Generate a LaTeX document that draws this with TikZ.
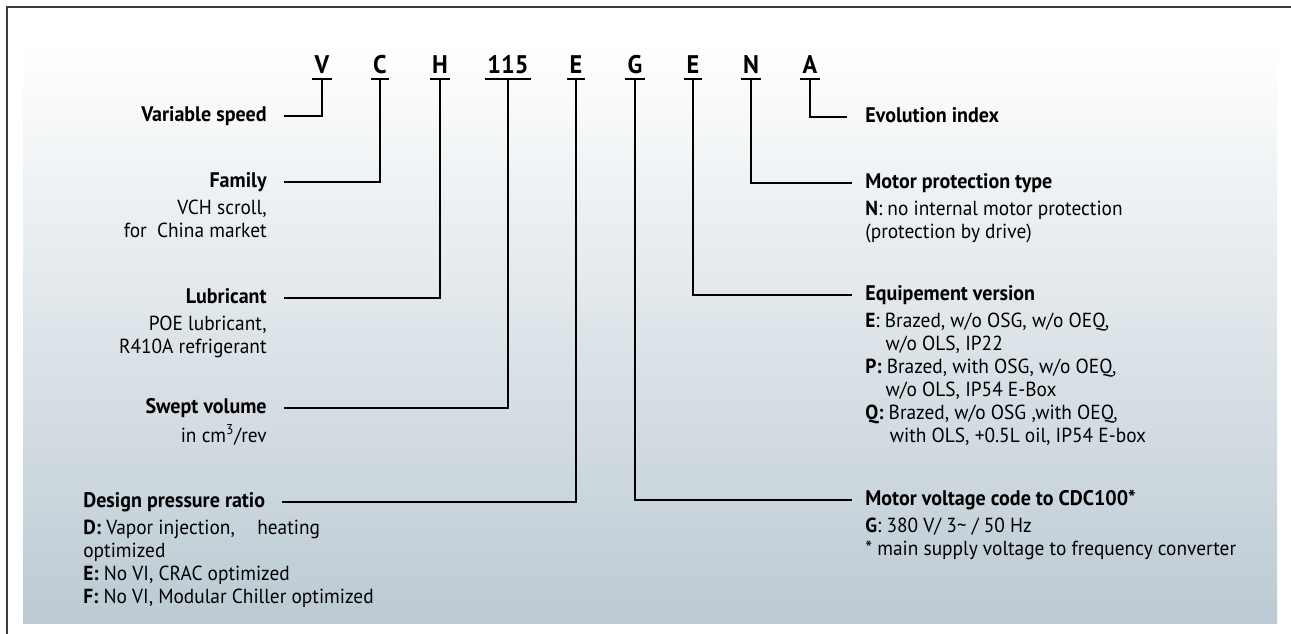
\documentclass[tikz,border=0pt]{standalone}
\usepackage{fontspec}
\setmainfont{PT Sans}[FakeStretch=0.95]
\usetikzlibrary{positioning}
\definecolor{bgbot}{HTML}{BCCAD3}
\definecolor{bgmid}{HTML}{E6EAEE}
\definecolor{framegray}{HTML}{3A3A3A}
\tikzset{
  code/.style={font=\bfseries\fontsize{14.5}{14.5}\selectfont, inner xsep=1.2pt, inner ysep=3pt,
    text height=10.2pt, text depth=0pt, anchor=south},
  title/.style={font=\bfseries\fontsize{12}{13}\selectfont, inner sep=0pt,
    text height=8.5pt, text depth=2.6pt},
  desc/.style={font=\fontsize{11.6}{13.1}\selectfont, inner sep=0pt},
  wire/.style={line width=1.1pt},
  wireL/.style={wire, shorten >=0.34cm},
  wireR/.style={wire, shorten >=0.26cm}
}
\begin{document}
\begin{tikzpicture}[x=0.02cm, y=-0.02cm]
    \useasboundingbox (0,0) rectangle (1291,634);
    % sfondo e cornice
    \shade[top color=white, middle color=bgmid, bottom color=bgbot] (23,42) rectangle (1277,623);
    \draw[framegray, line width=0.7pt] (7,634) -- (7,7) -- (1291,7);

    % codice
    \node[code] (cV) at (322,79) {V};
    \node[code] (cC) at (380,79) {C};
    \node[code] (cH) at (440,79) {H};
    \node[code] (cD) at (508,79) {115};
    \node[code] (cE) at (576,79) {E};
    \node[code] (cG) at (635,79) {G};
    \node[code] (cQ) at (693,79) {E};
    \node[code] (cN) at (751,79) {N};
    \node[code] (cA) at (810,79) {A};
    \foreach \c in {cV,cC,cH,cD,cE,cG,cQ,cN,cA}
      \draw[wire] (\c.south west) -- (\c.south east);

    % lato sinistro
    \node[title, anchor=east] (vs) at (267,116) {Variable speed};
    \node[title, anchor=east] (fam) at (267,182) {Family};
    \node[desc, align=right, below left=3.4pt and 0pt of fam.south east] (famD)
      {\strut VCH scroll,\\for\ \ China market};
    \node[title, anchor=east] (lub) at (267,298) {Lubricant};
    \node[desc, align=right, below left=3.4pt and 0pt of lub.south east] (lubD)
      {\strut POE lubricant,\\R410A refrigerant};
    \node[title, anchor=east] (swv) at (267,408) {Swept volume};
    \node[desc, align=right, below left=3.4pt and 0pt of swv.south east] (swvD)
      {\strut in cm\textsuperscript{3}/rev};
    \node[title, anchor=west] (dpr) at (83,502) {Design pressure ratio};
    \node[desc, align=left, below right=3.4pt and 0pt of dpr.south west] (dprD)
      {\strut\textbf{D:} Vapor injection,\hspace{1.1em}heating\\optimized\\
       \textbf{E:} No VI, CRAC optimized\\\textbf{F:} No VI, Modular Chiller optimized};

    % lato destro
    \node[title, anchor=west] (evo) at (865,117) {Evolution index};
    \node[title, anchor=west] (mpt) at (865,183) {Motor protection type};
    \node[desc, align=left, below right=3.4pt and 0pt of mpt.south west] (mptD)
      {\strut\textbf{N}: no internal motor protection\\(protection by drive)};
    \node[title, anchor=west] (eqv) at (865,295) {Equipement version};
    \node[desc, align=left, below right=3.4pt and 0pt of eqv.south west] (eqvD)
      {\strut\textbf{E}: Brazed, w/o OSG, w/o OEQ,\\\hspace*{11.5pt}w/o OLS, IP22\\
       \textbf{P:} Brazed, with OSG, w/o OEQ,\\\hspace*{11.5pt}w/o OLS, IP54 E-Box\\
       \textbf{Q:} Brazed, w/o OSG ,with OEQ,\\\hspace*{14pt}with OLS, +0.5L oil, IP54 E-box};
    \node[title, anchor=west] (mvc) at (865,500) {Motor voltage code to CDC100*};
    \node[desc, align=left, below right=3.4pt and 0pt of mvc.south west] (mvcD)
      {\strut\textbf{G}: 380 V/ 3\textasciitilde\ / 50 Hz\\* main supply voltage to frequency converter};

    % collegamenti
    \draw[wireL] (cV.south) |- (vs);
    \draw[wireL] (cC.south) |- (fam);
    \draw[wireL] (cH.south) |- (lub);
    \draw[wireL] (cD.south) |- (swv);
    \draw[wireL] (cE.south) |- (dpr);
    \draw[wireR] (cG.south) |- (mvc);
    \draw[wireR] (cQ.south) |- (eqv);
    \draw[wireR] (cN.south) |- (mpt);
    \draw[wire, shorten >=0.36cm] (cA.south) |- (evo);
\end{tikzpicture}
\end{document}
